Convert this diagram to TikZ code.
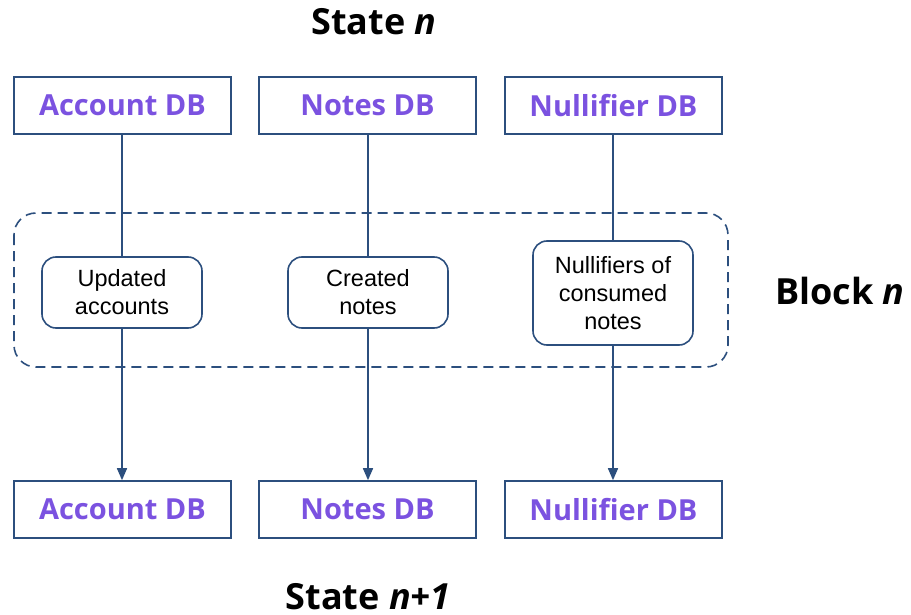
\documentclass[tikz,border=0pt]{standalone}
\usepackage{fontspec}
\setmainfont{Open Sans}
\newfontfamily\labelfont{Liberation Sans}
\usetikzlibrary{arrows.meta}
\definecolor{edgeblue}{HTML}{2C4F7E}
\definecolor{dbpurple}{HTML}{7B52E0}
\tikzset{
  dbbox/.style={draw=edgeblue, line width=1.6pt, minimum width=217pt, minimum height=57pt,
    inner sep=0pt, font=\fontsize{29}{32}\selectfont\bfseries, text=dbpurple},
  partbox/.style={draw=edgeblue, line width=1.6pt, rounded corners=14pt, minimum width=160pt,
    inner sep=0pt, align=center, font=\labelfont\fontsize{23.5}{28}\selectfont},
  title/.style={font=\fontsize{36}{40}\selectfont\bfseries},
  link/.style={draw=edgeblue, line width=1.6pt},
  flow/.style={link, -{Triangle[length=12pt, width=10pt]}},
}
\begin{document}
\begin{tikzpicture}[x=1pt, y=-1pt]
\useasboundingbox (0,0) rectangle (911,615);

% block region
\draw[edgeblue, line width=1.6pt, dash pattern=on 10pt off 6pt, rounded corners=22pt]
  (14,213) rectangle (728,367);

% titles
\node[title] (sn) at (374,22) {State \textit{n}};
\node[title] (sn1) at (368,597) {State \textit{n+1}};
\node[title] (bn) at (840,291) {Block \textit{n}};

% databases before the block
\node[dbbox] (acc0) at (122.5,105.5) {Account DB};
\node[dbbox] (not0) at (367.5,105.5) {Notes DB};
\node[dbbox] (nul0) at (613.5,105.5) {Nullifier DB};

% databases after the block
\node[dbbox] (acc1) at (122.5,509.5) {Account DB};
\node[dbbox] (not1) at (367.5,509.5) {Notes DB};
\node[dbbox] (nul1) at (613.5,509.5) {Nullifier DB};

% block contents
\node[partbox, minimum height=71pt] (upd) at (122,292.5) {Updated\\accounts};
\node[partbox, minimum height=71pt] (cre) at (368,292.5) {Created\\notes};
\node[partbox, minimum height=104pt] (nfs) at (613,293) {Nullifiers of\\consumed\\notes};

% connectors
\draw[link] (acc0.south -| upd.north) -- (upd.north);
\draw[link] (not0.south -| cre.north) -- (cre.north);
\draw[link] (nul0.south -| nfs.north) -- (nfs.north);
\draw[flow] (upd.south) -- (upd.south |- acc1.north);
\draw[flow] (cre.south) -- (cre.south |- not1.north);
\draw[flow] (nfs.south) -- (nfs.south |- nul1.north);
\end{tikzpicture}
\end{document}
